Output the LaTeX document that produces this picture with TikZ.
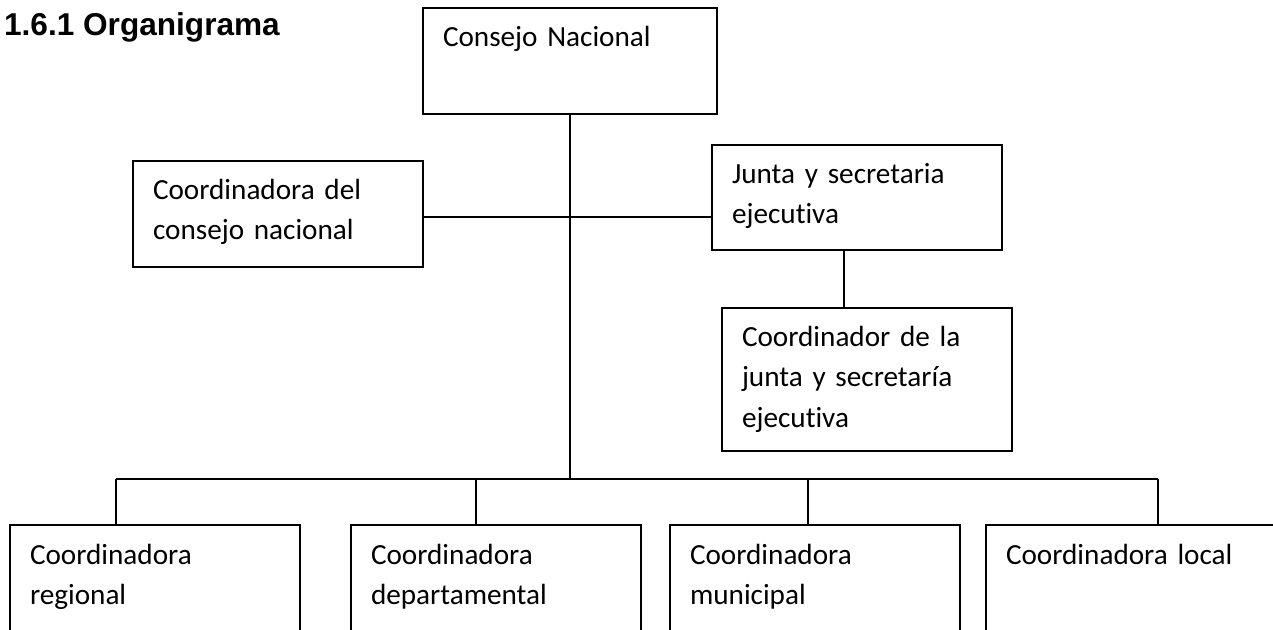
\documentclass[tikz,border=0pt]{standalone}
\usepackage{fontspec}
\setmainfont{Carlito}[Ligatures=CommonOff]
\newfontfamily\headfont{Liberation Sans}

\tikzset{
  orgbox/.style={draw, outer sep=0pt, anchor=north west, align=left,
    inner xsep=10pt, inner ysep=0pt, text width=125pt, text height=19.5pt,
    font=\fontsize{14.6pt}{20pt}\selectfont},
  heading/.style={anchor=base west, inner sep=0pt,
    font=\headfont\bfseries\fontsize{15.8pt}{18pt}\selectfont}
}

\begin{document}
\begin{tikzpicture}[x=0.5pt,y=-0.5pt,line width=1.1pt]
\useasboundingbox (0,0) rectangle (1273,630);
\clip (0,0) rectangle (1273,630);
\node (title) at (3,36) [heading] {1.6.1 Organigrama};
\node (consejo) at (423,8)  [orgbox,text width=127pt,text depth=33.5pt] {Consejo Nacional};
\node (cdel)    at (133,161) [orgbox,text depth=33.5pt] {Coordinadora del\\consejo nacional};
\node (junta)   at (712,145) [orgbox,text depth=33pt] {Junta y secretaria\\ejecutiva};
\node (cjunta)  at (722,308) [orgbox,text depth=52pt] {Coordinador de la\\junta y secretaría\\ejecutiva};
\node (reg) at (10,525)  [orgbox,text depth=80pt] {Coordinadora\\regional};
\node (dep) at (351,525) [orgbox,text depth=80pt] {Coordinadora\\departamental};
\node (mun) at (670,525) [orgbox,text depth=80pt] {Coordinadora\\municipal};
\node (loc) at (986,525) [orgbox,text depth=80pt] {Coordinadora local};
\coordinate (cross) at (570,217);
\coordinate (jdrop) at (844,0);
\coordinate (dreg) at (116,479);
\coordinate (ddep) at (476,479);
\coordinate (dmun) at (808,479);
\coordinate (dloc) at (1158,479);
\draw (cdel.east |- cross) -- (junta.west |- cross);
\draw (consejo.south) -- (consejo.south |- dreg);
\draw (jdrop |- junta.south) -- (jdrop |- cjunta.north);
\draw (dreg) -- (dloc);
\foreach \d/\b in {dreg/reg,ddep/dep,dmun/mun,dloc/loc}
  \draw (\d) -- (\d |- \b.north);
\end{tikzpicture}
\end{document}
